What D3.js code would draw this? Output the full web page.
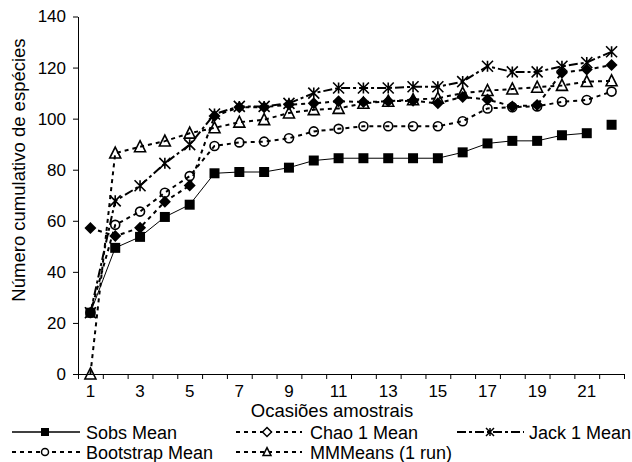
<!DOCTYPE html>
<html><head><meta charset="utf-8">
<script src="https://cdn.jsdelivr.net/npm/d3@7/dist/d3.min.js"></script>
<style>
body{margin:0;background:#fff;}
svg{display:block;font-family:"Liberation Sans",Arial,sans-serif;}
</style></head>
<body>
<svg id="c" width="632" height="462"></svg>
<script>
const categories = d3.range(1, 23);
const xTickLabels = [1,3,5,7,9,11,13,15,17,19,21];
const yTicks = [0,20,40,60,80,100,120,140];
const sobs = [24,49.4,53.7,61.5,66.3,78.6,79.1,79.1,80.8,83.6,84.5,84.5,84.5,84.5,84.5,86.8,90.3,91.3,91.3,93.5,94.3,97.6];
const chao = [57.2,54,57.3,67.5,73.8,101,104.5,104.5,105.5,106,106.8,106.5,106.8,107,106,108.5,107.5,104.8,105.3,118,119.2,121];
const jack = [24,67.8,73.7,82.5,89.8,101.8,104.8,104.8,106,110,112,112,112,112.5,112.5,114.5,120.5,118.3,118.3,120.5,122,126.2];
const boot = [24,58.4,63.6,71,77.5,89.3,90.7,91,92.3,95,96,97,97,97,97,99,104,104.5,104.8,106.6,107.3,110.6];
const mmm  = [0,86.5,89,91.2,94.3,96.4,98.6,99.6,102.2,103.5,104,106,106.8,107.4,108,110,111,111.6,112.3,113,114.5,114.8];
const seriesNames = ["Sobs Mean","Chao 1 Mean","Jack 1 Mean","Bootstrap Mean","MMMeans (1 run)"];

const svg = d3.select("#c");
const L = 78, R = 624, T = 16.5, B = 374;
const x = d3.scaleBand().domain(categories).range([L, R]);
const xb = d3.scaleLinear().domain([0.5, 22.5]).range([L, R]);
const y = d3.scaleLinear().domain([0, 140]).range([B, T]);
const cx = c => x(c) + x.bandwidth() / 2;

// axes
const ya = svg.append("g").attr("transform", `translate(${L},0)`)
  .call(d3.axisLeft(y).tickValues(yTicks).tickSize(5).tickSizeOuter(0).tickPadding(7));
ya.selectAll("text").style("font-size", "17px").attr("fill", "#000");
const xa = svg.append("g").attr("transform", `translate(0,${B})`)
  .call(d3.axisBottom(xb).tickValues(d3.range(0.5, 23, 1)).tickFormat("").tickSize(5).tickSizeOuter(0));
const xl = svg.append("g").attr("transform", `translate(0,${B})`)
  .call(d3.axisBottom(x).tickValues(xTickLabels).tickSize(0).tickPadding(11));
xl.select(".domain").remove();
xl.selectAll("text").style("font-size", "17px").attr("fill", "#000");
svg.selectAll(".domain, .tick line").attr("stroke", "#000");

svg.append("text").attr("transform", `translate(25,170) rotate(-90)`)
  .attr("text-anchor", "middle").style("font-size", "18.5px").text("Número cumulativo de espécies");
svg.append("text").attr("x", 332).attr("y", 417)
  .attr("text-anchor", "middle").style("font-size", "18.5px").text("Ocasiões amostrais");

// marker paths
const mk = {
  square: s => `M${-s/2},${-s/2}h${s}v${s}h${-s}Z`,
  diamond: s => `M0,${-s/2}L${s/2},0L0,${s/2}L${-s/2},0Z`,
  triangle: s => `M0,${-s*0.55}L${s/2},${s*0.45}L${-s/2},${s*0.45}Z`,
  circle: s => `M${s/2},0A${s/2},${s/2} 0 1,1 ${-s/2},0A${s/2},${s/2} 0 1,1 ${s/2},0Z`,
  star: s => `M${-s/2},${-s/2}L${s/2},${s/2}M${-s/2},${s/2}L${s/2},${-s/2}M0,${-s/2}V${s/2}`
};

const series = [
  {name: seriesNames[0], data: sobs, dash: null, w: 1, marker: "square", size: 10, fill: "#000", stroke: "none", lineN: 21, lsize: 8, lfill: "#000"},
  {name: seriesNames[1], data: chao, dash: "4,4", w: 2, marker: "diamond", size: 12, fill: "#000", stroke: "none", lineN: 22, lsize: 9, lfill: "#fff"},
  {name: seriesNames[2], data: jack, dash: "9,3,3,3", w: 2, marker: "star", size: 11, fill: "none", stroke: "#000", lineN: 22, lsize: 8},
  {name: seriesNames[3], data: boot, dash: "4,4", w: 2, marker: "circle", size: 9, fill: "none", stroke: "#000", lineN: 22, lsize: 7, lfill: "#fff"},
  {name: seriesNames[4], data: mmm, dash: "4,4", w: 2, marker: "triangle", size: 11, fill: "none", stroke: "#000", lineN: 22, lsize: 8, lfill: "#fff"}
];

const line = d3.line().x((d, i) => cx(categories[i])).y(d => y(d));
series.forEach(s => {
  svg.append("path").datum(s.data.slice(0, s.lineN))
    .attr("d", line).attr("fill", "none").attr("stroke", "#000")
    .attr("stroke-width", s.w).attr("stroke-dasharray", s.dash);
});
series.forEach(s => {
  svg.append("g").selectAll("path").data(s.data).join("path")
    .attr("transform", (d, i) => `translate(${cx(categories[i])},${y(d)})`)
    .attr("d", mk[s.marker](s.size))
    .attr("fill", s.fill).attr("stroke", s.stroke).attr("stroke-width", 1.6);
});

// legend
const leg = [
  {s: series[0], x0: 12, x1: 80, mx: 45, tx: 86, y: 432},
  {s: series[1], x0: 236, x1: 302, mx: 267, tx: 310, y: 432},
  {s: series[2], x0: 457, x1: 524, mx: 490, tx: 529, y: 432},
  {s: series[3], x0: 12, x1: 80, mx: 45, tx: 86, y: 452},
  {s: series[4], x0: 236, x1: 302, mx: 267, tx: 310, y: 452}
];
leg.forEach(l => {
  const g = svg.append("g");
  g.append("line").attr("x1", l.x0).attr("x2", l.x1).attr("y1", l.y).attr("y2", l.y)
    .attr("stroke", "#000").attr("stroke-width", l.s.w === 1 ? 1.5 : 2).attr("stroke-dasharray", l.s.dash);
  g.append("path").attr("d", mk[l.s.marker](l.s.lsize)).attr("transform", `translate(${l.mx},${l.y})`)
    .attr("fill", l.s.marker === "star" ? "none" : l.s.lfill)
    .attr("stroke", l.s.marker === "square" ? "none" : "#000").attr("stroke-width", 1.5);
  g.append("text").attr("x", l.tx).attr("y", l.y + 6.5).style("font-size", "18px").text(l.s.name);
});
</script>
</body></html>
